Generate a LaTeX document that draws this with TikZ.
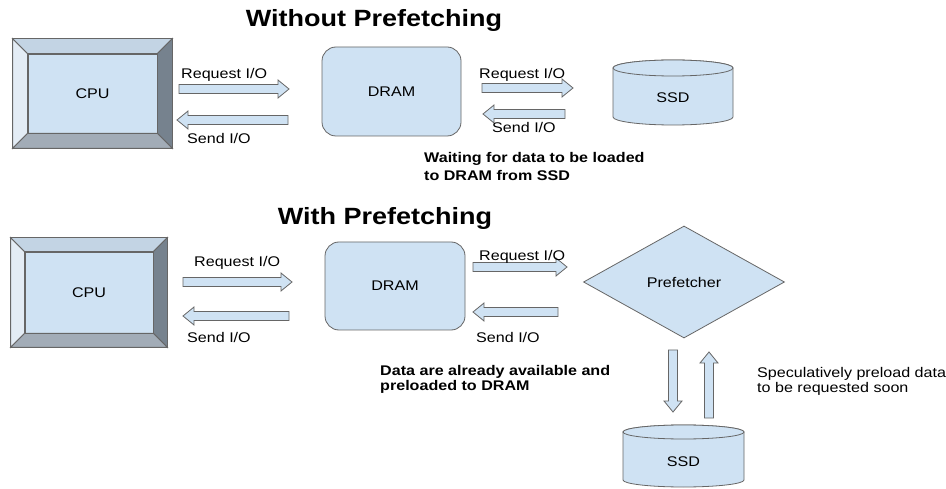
\documentclass[tikz,border=0pt]{standalone}
\usepackage{fontspec}
\setmainfont{Liberation Sans}[FakeStretch=1.15]
\usetikzlibrary{calc,shapes.geometric}
\definecolor{boxblue}{HTML}{CFE2F3}
\definecolor{edge}{HTML}{666666}
\definecolor{bvlight}{HTML}{E3ECF5}
\definecolor{bvtop}{HTML}{C3D4E4}
\definecolor{bvdark}{HTML}{76828E}
\definecolor{bvmid}{HTML}{A2ACB7}
% fat arrow from #1 to #2
\newcommand\blockarrow[2]{%
  \coordinate (hb) at ($(#2)!11pt!(#1)$);
  \draw [blk] ($(#1)!4.5pt!90:(#2)$) -- ($(hb)!4.5pt!90:(#2)$) -- ($(hb)!9pt!90:(#2)$) -- (#2)
    -- ($(hb)!9pt!-90:(#2)$) -- ($(hb)!4.5pt!-90:(#2)$) -- ($(#1)!4.5pt!-90:(#2)$) -- cycle;}
% bevel round node #1, depth #2
\newcommand\bevel[2]{%
  \coordinate (bnw) at ($(#1.north west)+(-#2,-#2)$);
  \coordinate (bne) at ($(#1.north east)+(#2,-#2)$);
  \coordinate (bsw) at ($(#1.south west)+(-#2,#2)$);
  \coordinate (bse) at ($(#1.south east)+(#2,#2)$);
  \draw [facet, fill=bvlight] (bnw) -- (#1.north west) -- (#1.south west) -- (bsw) -- cycle;
  \draw [facet, fill=bvtop] (bnw) -- (bne) -- (#1.north east) -- (#1.north west) -- cycle;
  \draw [facet, fill=bvdark] (bne) -- (bse) -- (#1.south east) -- (#1.north east) -- cycle;
  \draw [facet, fill=bvmid] (bsw) -- (bse) -- (#1.south east) -- (#1.south west) -- cycle;}
% cylinder: x, top y, bottom y, rx, ry
\newcommand\drum[5]{%
  \draw [face] (#1-#4,#2) -- (#1-#4,#3) arc (180:0:#4 and #5) -- (#1+#4,#2) arc (0:-180:#4 and #5) -- cycle;
  \draw [face] (#1,#2) ellipse (#4 and #5);}
\begin{document}
\begin{tikzpicture}[x=1pt, y=-1pt,
    face/.style={draw=edge, fill=boxblue, line width=0.8pt},
    facet/.style={draw=edge, line width=0.8pt},
    blk/.style={draw=edge, fill=boxblue, line width=0.8pt, line join=miter},
    ttl/.style={font=\fontsize{23.5}{28}\selectfont\bfseries},
    lbl/.style={anchor=west, inner sep=0pt, font=\fontsize{14}{17}\selectfont},
    note/.style={anchor=west, align=left, inner sep=0pt},
    every node/.append style={font=\fontsize{14}{17}\selectfont}]
    \fill [white] (0,0) rectangle (946,489);
    \useasboundingbox (0,0) rectangle (946,489);

    % without prefetching
    \node [ttl] (ttlA) at (374,20) {Without Prefetching};
    \node [face, minimum width=129pt, minimum height=79pt] (cpuA) at (92.5,93.5) {};
    \bevel{cpuA}{15}
    \node (cpuAtxt) at (cpuA) {CPU};
    \node [face, rounded corners=14pt, minimum width=139pt, minimum height=89pt] (dramA) at (391.5,91.5) {DRAM};
    \drum{673}{68}{117}{60}{8}
    \node (ssdA) at (673,98) {SSD};
    \coordinate (reqAs) at (179,89);  \coordinate (reqAe) at (289,89);
    \coordinate (sndAs) at (288,120); \coordinate (sndAe) at (177,120);
    \coordinate (reqBs) at (482,88);  \coordinate (reqBe) at (573,88);
    \coordinate (sndBs) at (565,114); \coordinate (sndBe) at (483,114);
    \blockarrow{reqAs}{reqAe}
    \blockarrow{sndAs}{sndAe}
    \blockarrow{reqBs}{reqBe}
    \blockarrow{sndBs}{sndBe}
    \node [lbl] (reqAl) at (181,75) {Request I/O};
    \node [lbl] (sndAl) at (187,138) {Send I/O};
    \node [lbl] (reqBl) at (479,75) {Request I/O};
    \node [lbl] (sndBl) at (492,127) {Send I/O};
    \node [note, font=\fontsize{14}{18}\selectfont\bfseries] (wait) at (424,166) {Waiting for data to be loaded\\to DRAM from SSD};

    % with prefetching
    \node [ttl] (ttlB) at (385,218) {With Prefetching};
    \node [face, minimum width=128pt, minimum height=81pt] (cpuB) at (89,292.5) {};
    \bevel{cpuB}{14}
    \node (cpuBtxt) at (cpuB) {CPU};
    \node [face, rounded corners=14pt, minimum width=140pt, minimum height=88pt] (dramB) at (395,286) {DRAM};
    \node [face, diamond, minimum width=201pt, minimum height=112pt, inner sep=0pt] (pref) at (684,282) {Prefetcher};
    \drum{683.5}{432}{480}{60.5}{7}
    \node (ssdB) at (683.5,462) {SSD};
    \coordinate (reqCs) at (183,282); \coordinate (reqCe) at (292,282);
    \coordinate (sndCs) at (289,316); \coordinate (sndCe) at (183,316);
    \coordinate (reqDs) at (473,267); \coordinate (reqDe) at (567,267);
    \coordinate (sndDs) at (558,312); \coordinate (sndDe) at (473,312);
    \coordinate (dwnS) at (673,350);  \coordinate (dwnE) at (673,412);
    \coordinate (upS) at (709,418);   \coordinate (upE) at (709,352);
    \blockarrow{reqCs}{reqCe}
    \blockarrow{sndCs}{sndCe}
    \blockarrow{reqDs}{reqDe}
    \blockarrow{sndDs}{sndDe}
    \blockarrow{dwnS}{dwnE}
    \blockarrow{upS}{upE}
    \node [lbl] (reqCl) at (194,263) {Request I/O};
    \node [lbl] (sndCl) at (187,337) {Send I/O};
    \node [lbl] (reqDl) at (479,257) {Request I/O};
    \node [lbl] (sndDl) at (476,337) {Send I/O};
    \node [note, font=\fontsize{14}{15}\selectfont\bfseries] (avail) at (380,379) {Data are already available and\\preloaded to DRAM};
    \node [note, font=\fontsize{14}{15}\selectfont] (spec) at (757,381) {Speculatively preload data\\to be requested soon};
\end{tikzpicture}
\end{document}
